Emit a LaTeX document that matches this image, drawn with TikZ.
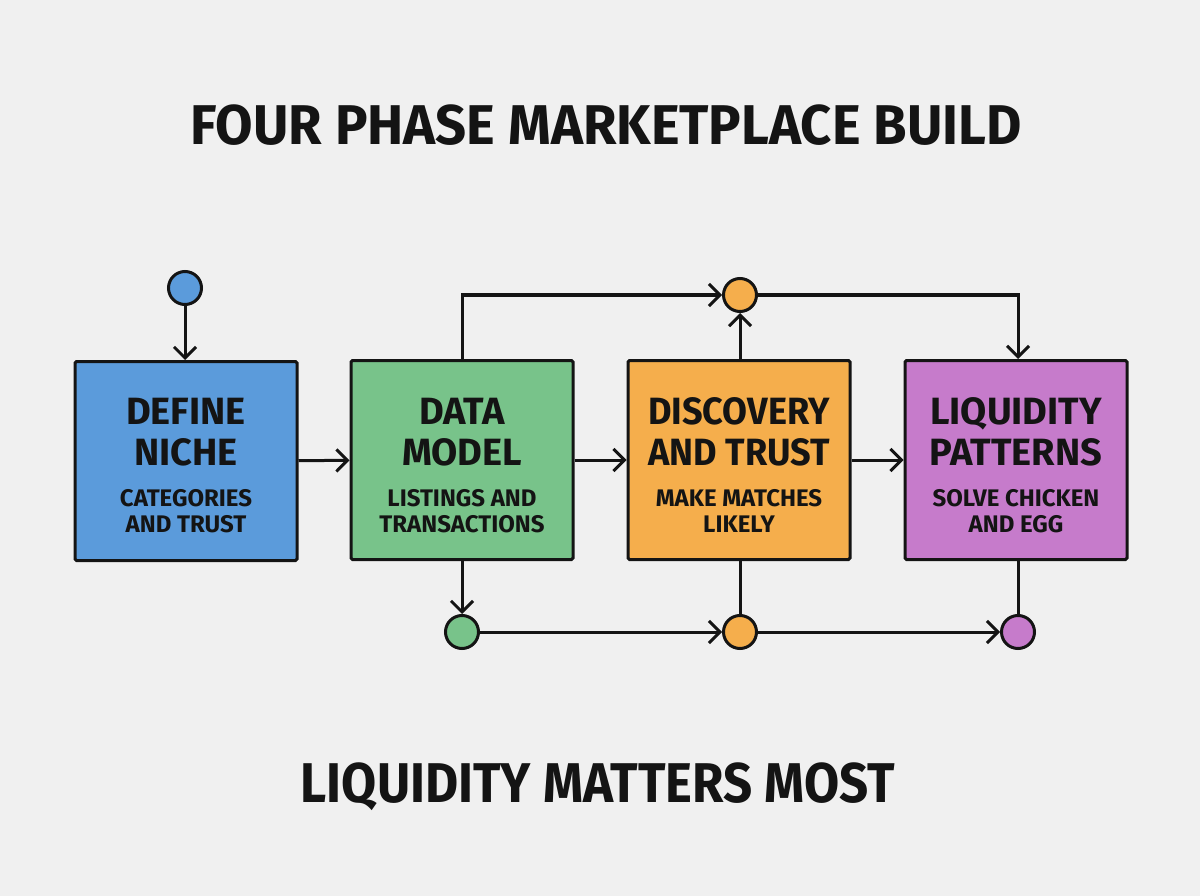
\documentclass[tikz,border=0pt]{standalone}
\usepackage{fontspec}
\setmainfont{Fira Sans}
\usetikzlibrary{arrows.meta}
\definecolor{bg}{HTML}{F0F0F0}
\definecolor{ink}{HTML}{141414}
\definecolor{cblue}{HTML}{5B9BDB}
\definecolor{cgreen}{HTML}{78C38A}
\definecolor{corange}{HTML}{F5AE4C}
\definecolor{cpurple}{HTML}{C67BCB}
\newcommand{\bigttl}{\fontsize{56}{60}\selectfont\bfseries}
\newcommand{\boxttl}{\fontsize{38}{41}\selectfont\bfseries}
\newcommand{\boxsub}{\fontsize{24}{26}\selectfont\bfseries}
\tikzset{
  phase/.style={draw=ink, line width=3pt, minimum width=222pt, minimum height=199pt, rounded corners=1.5pt},
  dot/.style={circle, draw=ink, line width=3pt, minimum size=33pt, inner sep=0pt},
  ttl/.style={text=ink, align=center, font=\boxttl, inner sep=0pt},
  subt/.style={text=ink, align=center, font=\boxsub, inner sep=0pt},
  conn/.style={draw=ink, line width=3pt},
  arr/.style={conn, -{Straight Barb[length=11pt, width=22pt, line width=3pt]}}
}
\begin{document}
\begin{tikzpicture}[x=1pt, y=-1pt]
\fill[bg] (0,0) rectangle (1200,896);
\node[text=ink, font=\bigttl, inner sep=0pt] (title) at (606,125) {\scalebox{0.97}[1]{FOUR PHASE MARKETPLACE BUILD}};
\node[text=ink, font=\bigttl, inner sep=0pt] (foot) at (598,787) {\scalebox{0.91}[1]{LIQUIDITY MATTERS MOST}};

\node[phase, fill=cblue] (p1) at (186,461) {};
\node[phase, fill=cgreen] (p2) at (462,460) {};
\node[phase, fill=corange] (p3) at (739,460) {};
\node[phase, fill=cpurple] (p4) at (1016,460) {};

\node[ttl] (t1) at (186,432) {DEFINE\\NICHE};
\node[subt] (s1) at (186,511) {CATEGORIES\\AND TRUST};
\node[ttl] (t2) at (462,432) {DATA\\MODEL};
\node[subt] (s2) at (462,511) {LISTINGS AND\\TRANSACTIONS};
\node[ttl] (t3) at (739,432) {\scalebox{0.95}[1]{DISCOVERY}\\\scalebox{0.95}[1]{AND TRUST}};
\node[subt] (s3) at (739,511) {MAKE MATCHES\\LIKELY};
\node[ttl] (t4) at (1016,432) {LIQUIDITY\\PATTERNS};
\node[subt] (s4) at (1016,511) {SOLVE CHICKEN\\AND EGG};

\node[dot, fill=cblue] (c0) at (185,288) {};
\node[dot, fill=corange] (ctop) at (740,295) {};
\node[dot, fill=cgreen] (c1) at (462,632) {};
\node[dot, fill=corange] (c2) at (740,632) {};
\node[dot, fill=cpurple] (c3) at (1018,632) {};

\draw[arr] (c0) -- (c0 |- p1.north);
\draw[arr] (p1) -- (p2);
\draw[arr] (p2) -- (p3);
\draw[arr] (p3) -- (p4);
\draw[arr] (p2.north) -- (p2.north |- ctop) -- (ctop);
\draw[arr] (ctop |- p3.north) -- (ctop);
\draw[arr] (ctop) -- (c3 |- ctop) -- (c3 |- p4.north);
\draw[arr] (p2.south) -- (c1);
\draw[arr] (c1) -- (c2);
\draw[arr] (c2) -- (c3);
\draw[conn] (c2 |- p3.south) -- (c2);
\draw[conn] (c3 |- p4.south) -- (c3);
\end{tikzpicture}
\end{document}
